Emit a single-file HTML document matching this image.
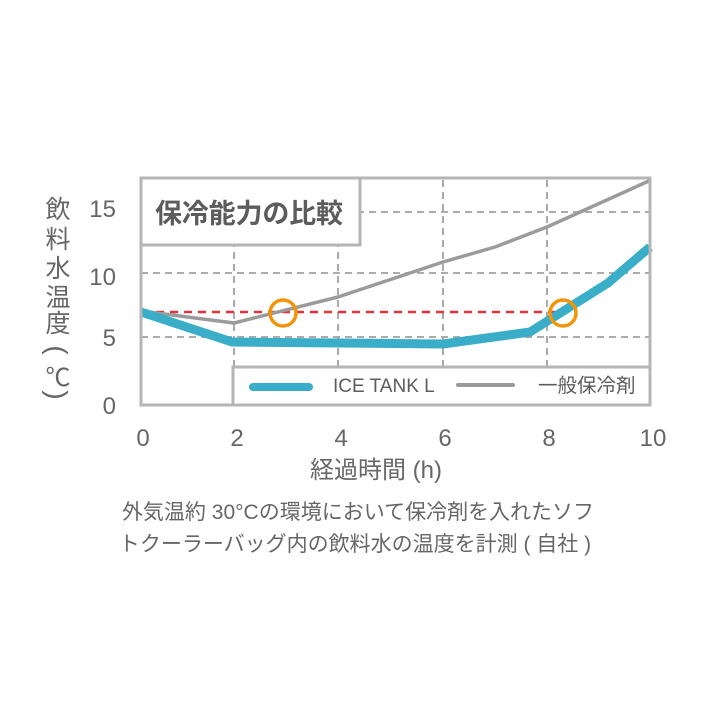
<!DOCTYPE html>
<html><head><meta charset="utf-8"><style>
html,body{margin:0;padding:0;background:#fff;}
body{position:relative;width:720px;height:720px;overflow:hidden;}
svg{display:block;position:absolute;left:0;top:0;}
text{font-family:"Liberation Sans","Noto Sans CJK JP",sans-serif;fill:#666;}
.cjk{font-family:"Noto Sans CJK JP","Liberation Sans",sans-serif;}
.par{position:absolute;width:30px;height:30px;line-height:30px;text-align:center;font-family:"Liberation Sans",sans-serif;font-size:28px;color:#666;transform:rotate(90deg);transform-origin:15px 15px;}
</style></head><body>
<svg width="720" height="720" viewBox="0 0 720 720" xmlns="http://www.w3.org/2000/svg">
<rect width="720" height="720" fill="#fff"/>
<!-- grid -->
<g stroke="#ababab" stroke-width="2" stroke-dasharray="7 5" fill="none">
<line x1="141" y1="212" x2="650" y2="212"/>
<line x1="141" y1="273" x2="650" y2="273"/>
<line x1="141" y1="337" x2="650" y2="337"/>
<line x1="234" y1="180" x2="234" y2="405"/>
<line x1="338" y1="180" x2="338" y2="405"/>
<line x1="443" y1="180" x2="443" y2="405"/>
<line x1="547" y1="180" x2="547" y2="405"/>
</g>
<!-- red dashed -->
<line x1="142" y1="312" x2="560" y2="312" stroke="#e0343a" stroke-width="2.5" stroke-dasharray="8 6"/>
<!-- gray series -->
<polyline points="141,311 234,323 338,297 443,262 495,247 547,227 651,180" fill="none" stroke="#9b9b9b" stroke-width="3.5" stroke-linejoin="round"/>
<!-- blue series -->
<polyline points="141,312 232,342 443,344 530,332 608,283 650,247" fill="none" stroke="#3aaec8" stroke-width="9" stroke-linejoin="round"/>
<!-- orange circles -->
<circle cx="283" cy="313" r="13" fill="none" stroke="#f0940a" stroke-width="3.5"/>
<circle cx="563" cy="313" r="13" fill="none" stroke="#f0940a" stroke-width="3.5"/>
<!-- plot border -->
<rect x="141" y="178" width="509" height="227" fill="none" stroke="#b5b5b5" stroke-width="3"/>
<!-- title box -->
<rect x="141" y="178" width="219" height="67" fill="#fff" stroke="#b5b5b5" stroke-width="3"/>
<text x="155" y="223" class="cjk" font-size="27" font-weight="700" style="fill:#5c5c5c" textLength="188">保冷能力の比較</text>
<!-- legend box -->
<rect x="233" y="367" width="417" height="38" fill="#fff" stroke="#b5b5b5" stroke-width="3"/>
<line x1="253" y1="387" x2="309" y2="387" stroke="#3aaec8" stroke-width="8" stroke-linecap="round"/>
<text x="333" y="392" font-size="19" style="fill:#5c5c5c">ICE TANK L</text>
<line x1="458" y1="385" x2="513" y2="385" stroke="#9b9b9b" stroke-width="4" stroke-linecap="round"/>
<text x="538" y="392" class="cjk" font-size="19.5" style="fill:#5c5c5c">一般保冷剤</text>
<!-- y tick labels -->
<g font-size="24" text-anchor="end">
<text x="116" y="217">15</text>
<text x="116" y="285">10</text>
<text x="116" y="346">5</text>
<text x="116" y="414">0</text>
</g>
<!-- x tick labels -->
<g font-size="24" text-anchor="middle">
<text x="143" y="446">0</text>
<text x="237" y="446">2</text>
<text x="341" y="446">4</text>
<text x="445" y="446">6</text>
<text x="549" y="446">8</text>
<text x="653" y="446">10</text>
</g>
<!-- y axis label -->
<g font-size="25" text-anchor="middle">
<text x="58" y="218" class="cjk">飲</text>
<text x="58" y="248" class="cjk">料</text>
<text x="58" y="277" class="cjk">水</text>
<text x="58" y="306" class="cjk">温</text>
<text x="58" y="332" class="cjk">度</text>
<text x="58" y="386" class="cjk">℃</text>
</g>
<!-- x axis title -->
<text x="376" y="478" font-size="24" text-anchor="middle">経過時間 (h)</text>
<!-- caption -->
<text x="358" y="519" font-size="21" text-anchor="middle">外気温約 30°Cの環境において保冷剤を入れたソフ</text>
<text x="355" y="551" font-size="21" text-anchor="middle">トクーラーバッグ内の飲料水の温度を計測 ( 自社 )</text>
</svg>
<div class="par" style="left:42px;top:335px;">(</div>
<div class="par" style="left:42px;top:380px;">)</div>
</body></html>
